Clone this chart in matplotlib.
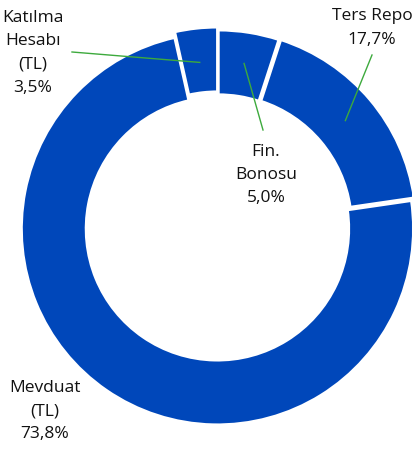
import matplotlib.pyplot as plt
import numpy as np

plt.rcParams['font.family'] = ['Open Sans', 'DejaVu Sans']

labels = ['Fin.\nBonosu\n5,0%', 'Ters Repo\n17,7%', 'Mevduat\n(TL)\n73,8%', 'Katılma\nHesabı\n(TL)\n3,5%']
values = [5.0, 17.7, 73.8, 3.5]

blue = '#0047BA'
green = '#3DAA3D'

# pixel helpers: donut centre at (218, 228), radius 196 px
cx, cy, R = 218, 228, 196
def px(x, y):
    return ((x - cx) / R, (cy - y) / R)

fig = plt.figure(figsize=(4.12, 4.55), dpi=100)
ax = fig.add_axes([0, 0, 1, 1])

wedges, _ = ax.pie(values, startangle=90, counterclock=False, radius=1.0,
                   colors=[blue] * 4, explode=[0.01, 0.015, 0.005, 0.025],
                   wedgeprops=dict(width=0.33, edgecolor='white', linewidth=2))

ax.set_xlim(-cx / R, (412 - cx) / R)
ax.set_ylim((cy - 455) / R, cy / R)
ax.set_aspect('equal')
ax.axis('off')

# label positions (pixel), and whether a leader line is drawn
text_pos = [(266, 175), (372, 28), (45, 411), (33, 53)]
line_start = [(263, 130), (372, 55), None, (72, 52)]

for w, lab, tp, ls in zip(wedges, labels, text_pos, line_start):
    ax.text(*px(*tp), lab, ha='center', va='center', fontsize=12.5,
            linespacing=1.6, color='#111111')
    if ls is not None:
        ang = np.deg2rad((w.theta1 + w.theta2) / 2)
        r = 0.85
        ax.plot([px(*ls)[0], r * np.cos(ang)], [px(*ls)[1], r * np.sin(ang)],
                color=green, lw=1)

fig.savefig('out.png', dpi=100)
